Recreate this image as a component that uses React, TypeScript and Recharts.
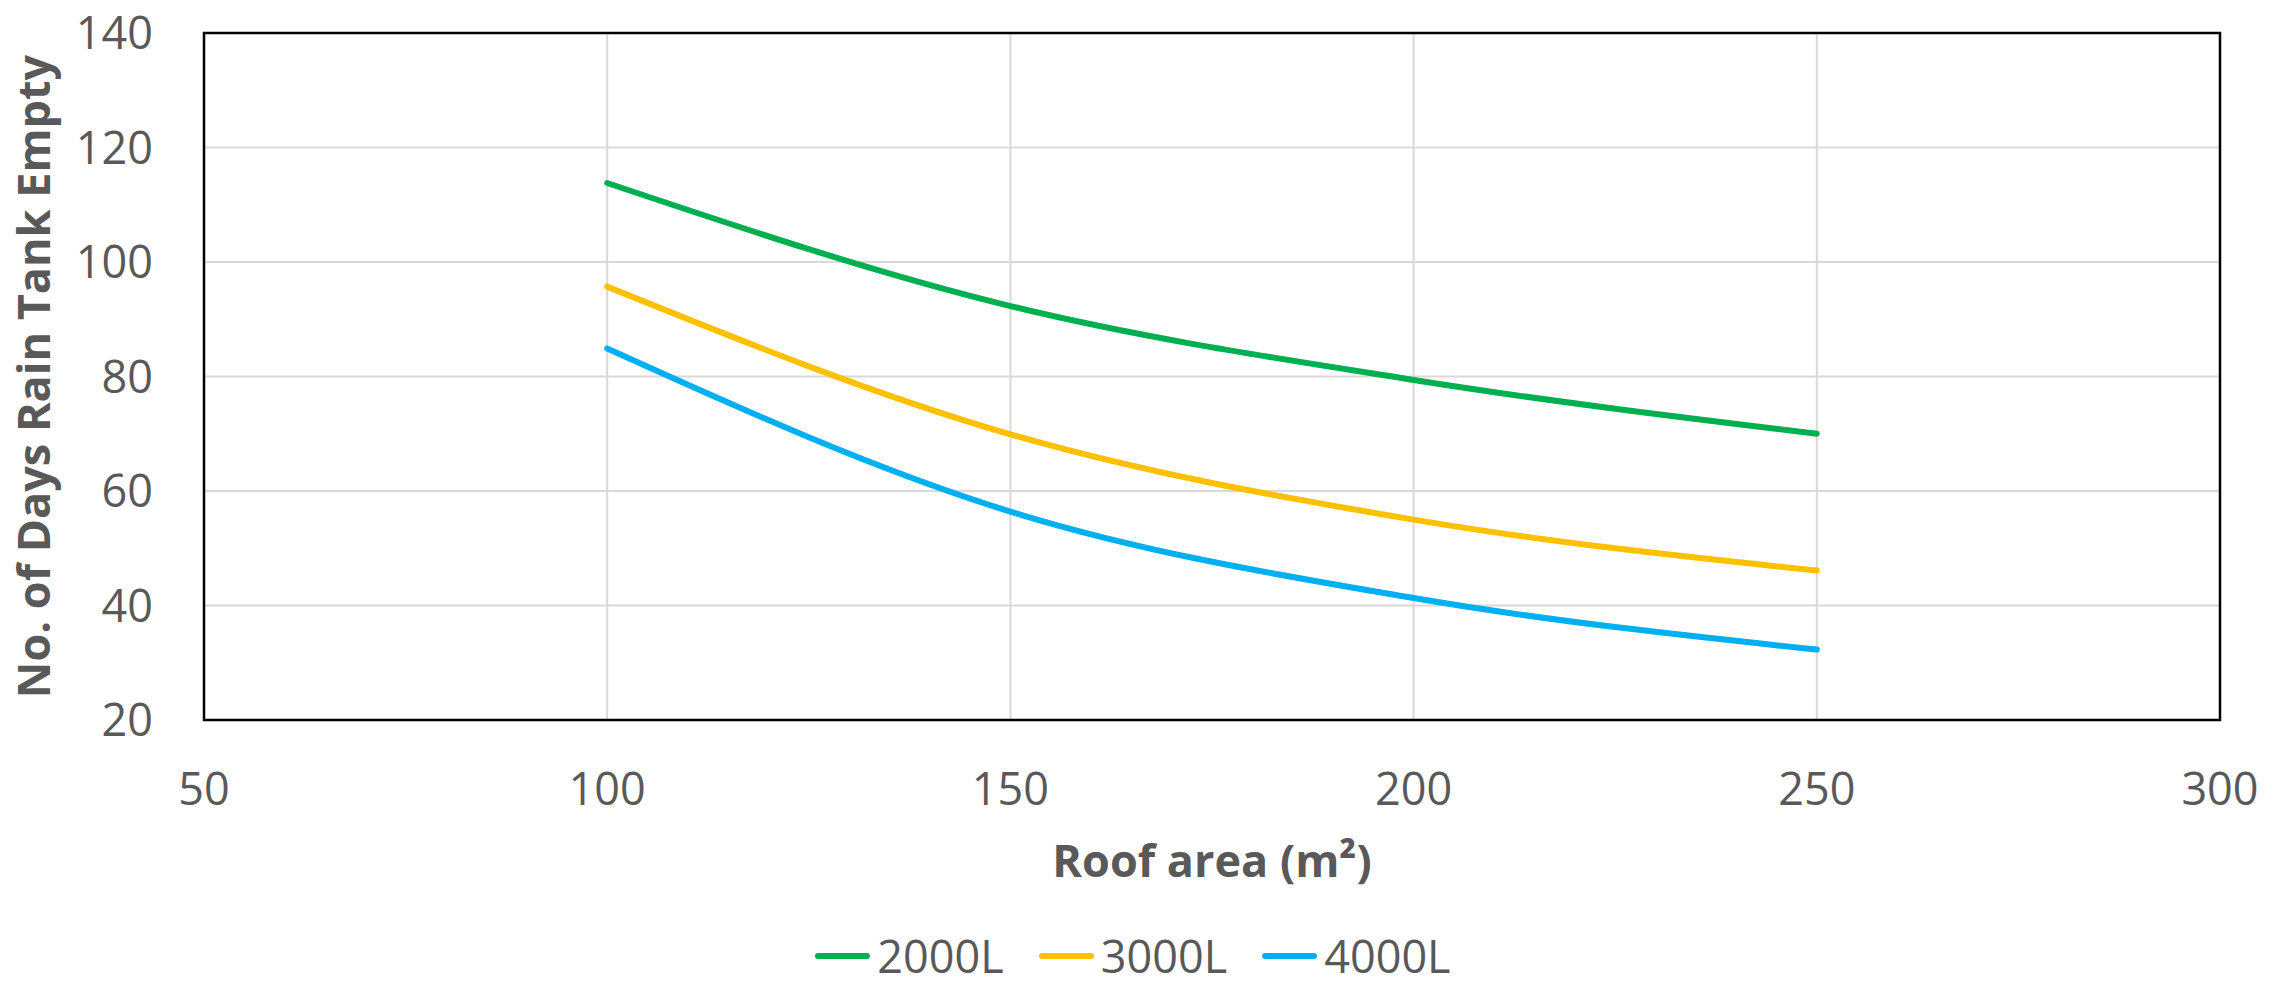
import React from 'react'
import { LineChart, Line, XAxis, YAxis, CartesianGrid, Legend, ReferenceArea } from 'recharts'

const roofArea = [100, 150, 200, 250]
const tank2000 = [113.8, 92.3, 79.4, 70.0]
const tank3000 = [95.7, 69.9, 55.0, 46.1]
const tank4000 = [84.9, 56.4, 41.3, 32.3]

const xTicks = [50, 100, 150, 200, 250, 300]
const yTicks = [20, 40, 60, 80, 100, 120, 140]

const series = [
  { key: 'l2000', name: '2000L', color: '#00B050' },
  { key: 'l3000', name: '3000L', color: '#FFC000' },
  { key: 'l4000', name: '4000L', color: '#00B0F0' },
]

const data = roofArea.map((area, i) => ({
  area,
  l2000: tank2000[i],
  l3000: tank3000[i],
  l4000: tank4000[i],
}))

const FONT = '"Open Sans", "Noto Sans", sans-serif'
const GREY = '#595959'

const XTick = ({ x, y, payload }: any) => (
  <text x={x} y={y + 85} textAnchor="middle" fill={GREY} fontSize={45} fontFamily={FONT}>
    {payload.value}
  </text>
)

const YTick = ({ x, y, payload }: any) => (
  <text x={x - 51} y={y + 16} textAnchor="end" fill={GREY} fontSize={45} fontFamily={FONT}>
    {payload.value}
  </text>
)

const renderLegend = () => (
  <div style={{ display: 'flex', justifyContent: 'center', alignItems: 'center', gap: 35, height: 40, paddingRight: 24 }}>
    {series.map(s => (
      <div key={s.key} style={{ display: 'flex', alignItems: 'center' }}>
        <span style={{ display: 'inline-block', width: 55, height: 6, borderRadius: 3, background: s.color, marginRight: 7 }} />
        <span style={{ fontFamily: FONT, fontSize: 45, color: GREY, lineHeight: '40px' }}>{s.name}</span>
      </div>
    ))}
  </div>
)

export default function App() {
  return (
    <div style={{ position: 'absolute', left: 0, top: 0, background: '#fff' }}>
      <LineChart width={2290} height={987} data={data} margin={{ top: 33, right: 70, left: 0, bottom: 0 }}>
        <CartesianGrid stroke="#D9D9D9" strokeWidth={2} />
        <XAxis
          dataKey="area"
          type="number"
          domain={[50, 300]}
          ticks={xTicks}
          height={227}
          axisLine={false}
          tickLine={false}
          tickSize={0}
          tickMargin={0}
          tick={<XTick />}
          interval={0}
          label={{
            content: ({ viewBox }: any) => (
              <text x={viewBox.x + viewBox.width / 2} y={viewBox.y + 157} textAnchor="middle" fill={GREY} fontSize={45} fontWeight="bold" fontFamily={FONT}>
                Roof area (m²)
              </text>
            ),
          }}
        />
        <YAxis
          type="number"
          domain={[20, 140]}
          ticks={yTicks}
          width={204}
          axisLine={false}
          tickLine={false}
          tickSize={0}
          tickMargin={0}
          tick={<YTick />}
          interval={0}
          label={{
            content: ({ viewBox }: any) => (
              <text transform={`translate(50, ${viewBox.y + viewBox.height / 2}) rotate(-90)`} textAnchor="middle" fill={GREY} fontSize={45} fontWeight="bold" fontFamily={FONT}>
                No. of Days Rain Tank Empty
              </text>
            ),
          }}
        />
        <ReferenceArea x1={50} x2={300} y1={20} y2={140} fill="none" stroke="#000" strokeWidth={2.5} />
        {series.map(s => (
          <Line
            key={s.key}
            dataKey={s.key}
            name={s.name}
            type="monotone"
            stroke={s.color}
            strokeWidth={6}
            strokeLinecap="round"
            dot={false}
            activeDot={false}
            isAnimationActive={false}
          />
        ))}
        <Legend verticalAlign="bottom" content={renderLegend} wrapperStyle={{ left: 0, width: 2290, bottom: 11 }} />
      </LineChart>
    </div>
  )
}
